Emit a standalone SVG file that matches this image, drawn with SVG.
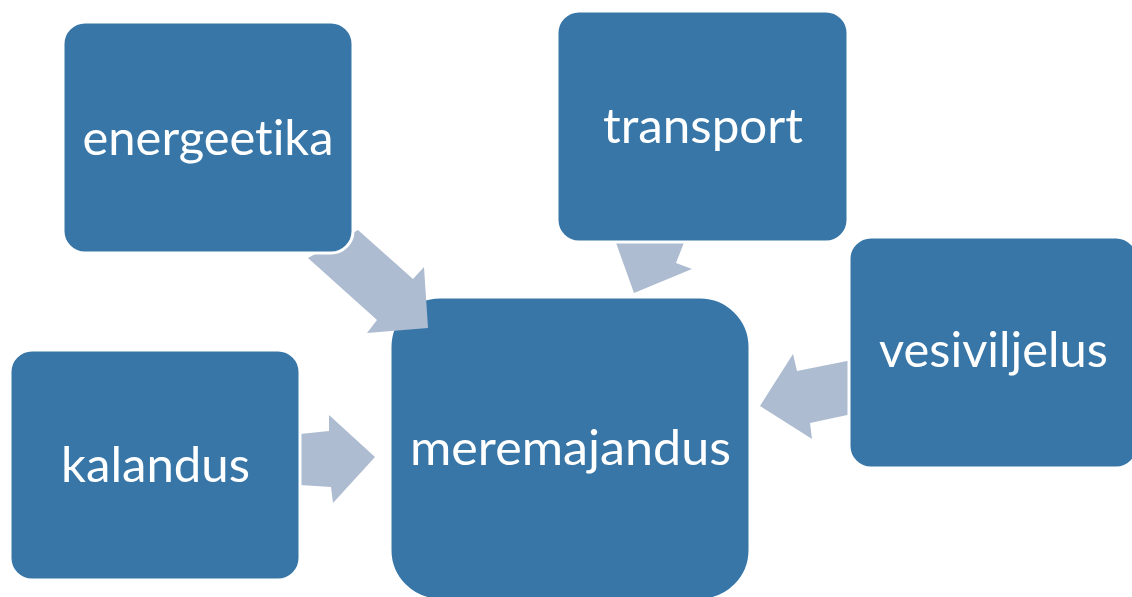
<svg xmlns="http://www.w3.org/2000/svg" width="1132" height="597" viewBox="0 0 1132 597">
  <style>
    .box { fill: #3776a7; stroke: #ffffff; stroke-width: 3; }
    .arrow { fill: #adbcd0; }
    .label { fill: #ffffff; font-family: Lato, "Open Sans", "Liberation Sans", sans-serif; font-size: 48px; text-anchor: middle; font-variant-ligatures: none; }
  </style>
  <rect width="1132" height="597" fill="#ffffff"/>

  <!-- centre node sits underneath the arrows -->
  <g id="node-meremajandus">
    <rect class="box" x="390" y="297" width="360" height="303" rx="50"/>
    <text class="label" x="570.5" y="465" textLength="321" lengthAdjust="spacingAndGlyphs">meremajandus</text>
  </g>

  <!-- block arrows pointing into the centre node -->
  <g id="connectors">
    <polygon class="arrow" points="308,258 358,230 413,279 424,267 428,328 367,333 377,320"/>
    <polygon class="arrow" points="615,240 685,240 676,263 692,269 634,293"/>
    <polygon class="arrow" points="760,406 793,354 797,371 852,360 852,414 810,423 812,439"/>
    <polygon class="arrow" points="300,434 329,431 329,415 375,457 333,503 331,487 300,485"/>
  </g>

  <g id="node-energeetika">
    <rect class="box" x="63" y="22" width="290" height="231" rx="22"/>
    <text class="label" x="208" y="155" textLength="251" lengthAdjust="spacingAndGlyphs">energeetika</text>
  </g>

  <g id="node-transport">
    <rect class="box" x="557" y="11" width="291" height="231" rx="22"/>
    <text class="label" x="703" y="143" textLength="200" lengthAdjust="spacingAndGlyphs">transport</text>
  </g>

  <g id="node-vesiviljelus">
    <rect class="box" x="849" y="237" width="289" height="231" rx="22"/>
    <text class="label" x="993.5" y="367" textLength="229" lengthAdjust="spacingAndGlyphs">vesiviljelus</text>
  </g>

  <g id="node-kalandus">
    <rect class="box" x="10" y="350" width="290" height="230" rx="22"/>
    <text class="label" x="155.5" y="482" textLength="189" lengthAdjust="spacingAndGlyphs">kalandus</text>
  </g>
</svg>
